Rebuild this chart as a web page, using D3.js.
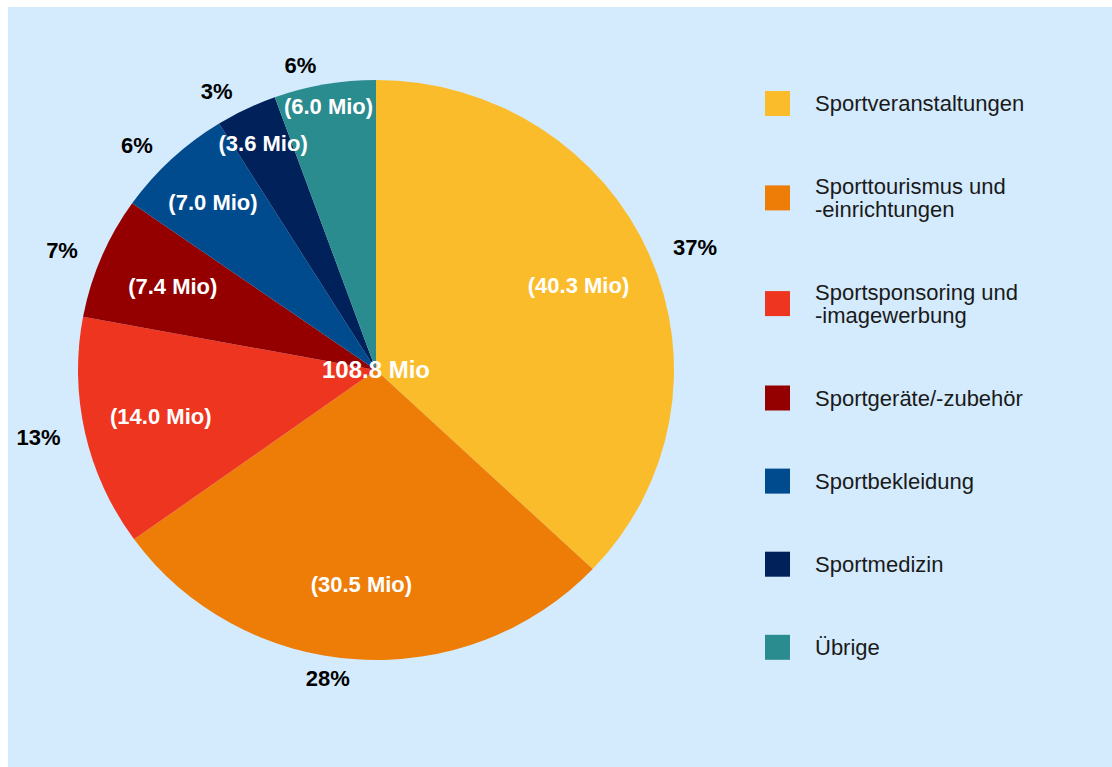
<!DOCTYPE html>
<html>
<head>
<meta charset="utf-8">
<script src="https://cdn.jsdelivr.net/npm/d3@7"></script>
<style>
	body { margin: 0; background: #fff; }
	svg { display: block; font-family: "Liberation Sans", Arial, Helvetica, sans-serif; }
</style>
</head>
<body>
<div id="chart"></div>
<script>
// data (Mio)
var categories = ["Sportveranstaltungen", "Sporttourismus und\n-einrichtungen", "Sportsponsoring und\n-imagewerbung",
	"Sportgeräte/-zubehör", "Sportbekleidung", "Sportmedizin", "Übrige"];
var values = [40.3, 30.5, 14.0, 7.4, 7.0, 3.6, 6.0];
var colours = ["#fbbc2c", "#ed7d07", "#ee3520", "#940000", "#004b8d", "#00215a", "#2a8c8e"];

var width = 1112, height = 767;
var cx = 376, cy = 370;
var radius = 298, ky = 290 / 298; // pie is drawn slightly squashed
var total = d3.sum(values);
var fmt = d3.format(".1f");

var svg = d3.select("#chart").append("svg").attr("width", width).attr("height", height);
svg.append("rect").attr("x", 8).attr("y", 7).attr("width", width - 8).attr("height", height - 7).attr("fill", "#d4ebfd");

var pie = d3.pie().sort(null).value(function(d) { return d; });
var arcs = pie(values);
var arc = d3.arc().innerRadius(0).outerRadius(radius);

svg.append("g").attr("transform", "translate(" + cx + "," + cy + ") scale(1," + ky + ")")
	.selectAll("path").data(arcs).enter().append("path")
	.attr("d", arc)
	.attr("fill", function(d, i) { return colours[i]; });

var labels = svg.append("g").attr("transform", "translate(" + cx + "," + cy + ")");

function pt(a, r) {
	return [r * Math.sin(a), -r * Math.cos(a) * ky];
}

// smallest distance of the label box to the slice edges (negative = sticks out)
function margin(d, r, w, h) {
	var a = (d.startAngle + d.endAngle) / 2;
	var c = [r * Math.sin(a), -r * Math.cos(a)];
	var corners = [[c[0] - w / 2, c[1] - h / 2], [c[0] + w / 2, c[1] - h / 2], [c[0] - w / 2, c[1] + h / 2], [c[0] + w / 2, c[1] + h / 2]];
	var m = Infinity;
	corners.forEach(function(p) {
		var dist = Math.hypot(p[0], p[1]);
		var ang = Math.atan2(p[0], -p[1]);
		if (ang < 0) ang += 2 * Math.PI;
		if (ang < d.startAngle - Math.PI) ang += 2 * Math.PI;
		m = Math.min(m, radius - dist, dist * Math.sin(ang - d.startAngle), dist * Math.sin(d.endAngle - ang));
	});
	return m;
}

arcs.forEach(function(d, i) {
	var a = (d.startAngle + d.endAngle) / 2;
	var t = labels.append("text")
		.attr("text-anchor", "middle")
		.attr("dy", "0.35em")
		.attr("fill", "#fff")
		.attr("font-weight", "bold")
		.attr("font-size", 22)
		.text("(" + fmt(values[i]) + " Mio)");
	var w = t.node().getComputedTextLength();
	var r = null, best = -Infinity, bestR = radius * 0.74;
	for (var rr = radius * 0.74; rr <= radius * 0.95; rr += 1) {
		var m = margin(d, rr, w, 18);
		if (m >= 5) { r = rr; break; }
		if (m > best) { best = m; bestR = rr; }
	}
	if (r === null) r = best >= 0 ? bestR : radius * 0.87; // does not fit at all
	var p = pt(a, r);
	t.attr("x", p[0]).attr("y", p[1]);

	// percentage outside
	var q = pt(a, 318);
	var right = a < Math.PI;
	labels.append("text")
		.attr("x", q[0] + (right ? 5 : -5))
		.attr("y", q[1])
		.attr("dy", "0.35em")
		.attr("text-anchor", right ? "start" : "end")
		.attr("font-weight", "bold")
		.attr("font-size", 22)
		.attr("fill", "#000")
		.text(Math.round(values[i] / total * 100) + "%");
});

labels.append("text")
	.attr("text-anchor", "middle")
	.attr("dy", "0.35em")
	.attr("fill", "#fff")
	.attr("font-weight", "bold")
	.attr("font-size", 24)
	.text(fmt(total) + " Mio");

// legend
var lineH = 22.6, gap = 60.5;
var legend = svg.append("g");
var yTop = 103.5 - lineH / 2;
categories.forEach(function(c, i) {
	var lines = c.split("\n");
	var h = lines.length * lineH;
	var mid = yTop + h / 2;
	legend.append("rect")
		.attr("x", 765).attr("y", mid - 12.5)
		.attr("width", 25).attr("height", 25)
		.attr("fill", colours[i]);
	var t = legend.append("text")
		.attr("x", 815)
		.attr("font-size", 22)
		.attr("fill", "#1a1a1a");
	lines.forEach(function(l, j) {
		t.append("tspan")
			.attr("x", 815)
			.attr("y", mid - h / 2 + lineH * j + lineH / 2)
			.attr("dy", "0.35em")
			.text(l);
	});
	yTop += h + gap;
});
</script>
</body>
</html>
